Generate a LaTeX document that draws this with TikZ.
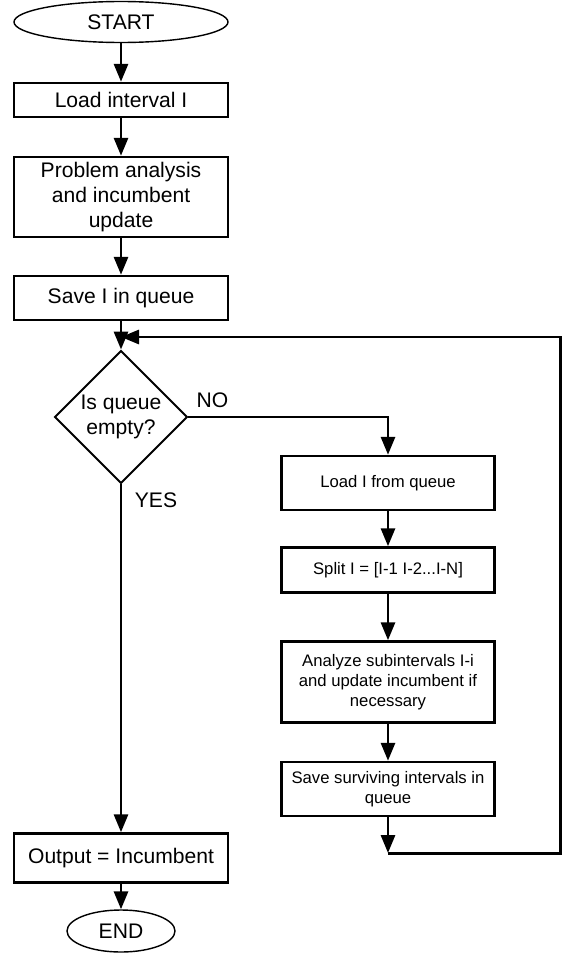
\documentclass[tikz,border=0pt]{standalone}
\usepackage{fontspec}
\setmainfont{Liberation Sans}
\usepackage{tikz}
\usetikzlibrary{shapes.geometric, arrows.meta}
\tikzstyle{terminator} = [ellipse, draw, line width=0.8pt, inner sep=0pt, text centered, font=\fontsize{12}{14}\selectfont]
\tikzstyle{process} = [rectangle, draw, line width=1.4pt, inner sep=0pt, align=center, minimum width=4.28cm, font=\fontsize{12}{14}\selectfont]
\tikzstyle{subprocess} = [rectangle, draw, line width=1.4pt, inner sep=0pt, align=center, minimum width=4.26cm, font=\fontsize{9.5}{11.5}\selectfont]
\tikzstyle{decision} = [diamond, draw, line width=1.1pt, inner sep=0pt, aspect=1, minimum size=2.66cm, align=center, font=\fontsize{12}{14}\selectfont]
\tikzstyle{flow} = [line width=1.7pt, -{Triangle[length=0.36cm, width=0.28cm]}]

\begin{document}
\begin{tikzpicture}

        \useasboundingbox (0, 0) rectangle (11.3, -19.08);

        \node[terminator, minimum width=4.28cm, minimum height=0.82cm] at (2.42, -0.44) (Start) {START};
        \node[process, minimum height=0.68cm] at (2.42, -2.00) (LoadInterval) {Load interval I};
        \node[process, minimum height=1.6cm] at (2.42, -3.94) (Analysis) {Problem analysis\\and incumbent\\update};
        \node[process, minimum height=0.88cm] at (2.42, -5.96) (SaveQueue) {Save I in queue};
        \node[decision] at (2.42, -8.34) (QueueEmpty) {Is queue\\empty?};
        \node[process, minimum height=0.98cm] at (2.42, -17.16) (Output) {Output = Incumbent};
        \node[terminator, minimum width=2.16cm, minimum height=0.84cm] at (2.42, -18.62) (End) {END};

        \node[subprocess, minimum height=1.08cm] at (7.76, -9.66) (LoadFromQueue) {Load I from queue};
        \node[subprocess, minimum height=0.9cm] at (7.76, -11.40) (Split) {Split I = [I-1 I-2...I-N]};
        \node[subprocess, minimum height=1.62cm] at (7.76, -13.64) (Subintervals) {Analyze subintervals I-i\\and update incumbent if\\necessary};
        \node[subprocess, minimum height=1.08cm] at (7.76, -15.78) (SaveSurviving) {Save surviving intervals in\\queue};

        \node[font=\fontsize{12}{14}\selectfont] at (4.25, -8.0) (NoLabel) {NO};
        \node[font=\fontsize{12}{14}\selectfont] at (3.12, -10.0) (YesLabel) {YES};

        \coordinate (LoopIn) at (2.42, -6.74);
        \coordinate (LoopCorner) at (7.76, -17.06);
        \coordinate (LoopRight) at (11.2, -17.06);

        \draw[flow] (Start) -- (LoadInterval);
        \draw[flow] (LoadInterval) -- (Analysis);
        \draw[flow] (Analysis) -- (SaveQueue);
        \draw[flow] (SaveQueue) -- (QueueEmpty);
        \draw[flow] (QueueEmpty) -| (LoadFromQueue);
        \draw[flow] (QueueEmpty) -- (Output);
        \draw[flow] (Output) -- (End);

        \draw[flow] (LoadFromQueue) -- (Split);
        \draw[flow] (Split) -- (Subintervals);
        \draw[flow] (Subintervals) -- (SaveSurviving);
        \draw[flow] (SaveSurviving) -- (LoopCorner);
        \draw[flow] (LoopCorner) -- (LoopRight) |- (LoopIn);

    \end{tikzpicture}
\end{document}
